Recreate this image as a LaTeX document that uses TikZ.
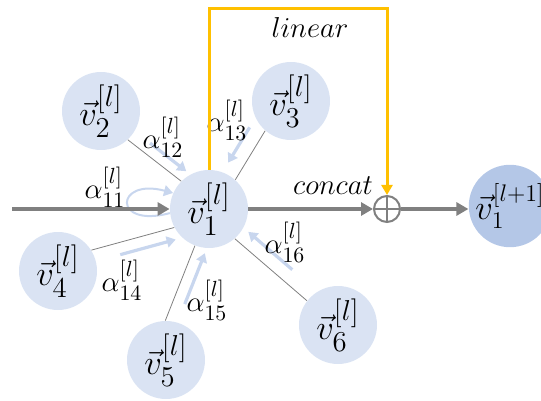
\documentclass[tikz,border=0pt]{standalone}
\definecolor{nodeblue}{RGB}{218,227,243}
\definecolor{outblue}{RGB}{180,199,231}
\definecolor{attnblue}{RGB}{200,214,238}
\definecolor{flowgrey}{RGB}{128,128,128}
\definecolor{skipyellow}{RGB}{255,192,0}
\usepackage{amsmath}
\usepackage{tikz}
\usetikzlibrary{arrows.meta,calc}

\begin{document}
\begin{tikzpicture}[
    x=0.5pt, y=-0.5pt,
    vertex/.style={circle, fill=nodeblue, minimum size=39pt, inner sep=0pt, font=\fontsize{19}{20}\selectfont},
    out vertex/.style={vertex, fill=outblue, minimum size=41pt, font=\fontsize{17}{18}\selectfont},
    weight/.style={font=\fontsize{15}{16}\selectfont},
    op label/.style={font=\fontsize{15}{16}\selectfont},
    edge line/.style={draw=flowgrey, line width=0.4pt},
    attn/.style={-{Triangle[length=4.5pt,width=5.5pt]}, draw=attnblue, line width=1.6pt},
    flow/.style={-{Triangle[length=6pt,width=6.5pt]}, draw=flowgrey, line width=2pt},
    skip/.style={-{Triangle[length=5pt,width=5.5pt]}, draw=skipyellow, line width=1.5pt},
    adder/.style={circle, draw=flowgrey, line width=1pt, minimum size=13pt, inner sep=0pt,
        path picture={\draw[flowgrey, line width=1pt]
            (path picture bounding box.north) -- (path picture bounding box.south)
            (path picture bounding box.west) -- (path picture bounding box.east);}}
]
    \useasboundingbox (0,0) rectangle (541,401);

    % Vertices of layer l
    \node[vertex] (v1) at (209,209) {$\vec{v}_1^{[l]}$};
    \node[vertex] (v2) at (101,111) {$\vec{v}_2^{[l]}$};
    \node[vertex] (v3) at (291,101) {$\vec{v}_3^{[l]}$};
    \node[vertex] (v4) at (58,271) {$\vec{v}_4^{[l]}$};
    \node[vertex] (v5) at (166,360) {$\vec{v}_5^{[l]}$};
    \node[vertex] (v6) at (338,325) {$\vec{v}_6^{[l]}$};

    % Next layer
    \node[adder] (sum) at (387,209) {};
    \node[out vertex] (v1next) at (510,206) {$\vec{v}_1^{[l+1]}$};

    % Neighbour edges
    \foreach \n/\src/\dst in {2/-47/135, 3/229/48, 4/32/208, 5/91/249, 6/142/311} {
        \draw[edge line] (v\n.\src) -- (v1.\dst);
    }

    % Attention weights
    \foreach \n/\src/\dst/\s/\e/\side/\d in {2/-47/135/0.29/0.97/90/5.5pt, 3/229/48/0.09/0.81/-90/7.5pt,
        4/32/208/0.31/0.98/-90/6pt, 5/91/249/0.28/0.96/-90/6pt, 6/142/311/0.33/0.94/-90/7pt} {
        \draw[attn] ($(v\n.\src)!\s!(v1.\dst)!\d!\side:(v1.\dst)$)
            -- ($(v\n.\src)!\e!(v1.\dst)!\d!\side:(v1.\dst)$);
    }
    \draw[attn, line width=1pt] (v1.186) .. controls +(165:60) and +(195:60) .. (v1.156);

    \node[weight] (a11) at (105,187) {$\alpha_{11}^{[l]}$};
    \node[weight] (a12) at (163,137) {$\alpha_{12}^{[l]}$};
    \node[weight] (a13) at (227,120) {$\alpha_{13}^{[l]}$};
    \node[weight] (a14) at (122,280) {$\alpha_{14}^{[l]}$};
    \node[weight] (a15) at (207,300) {$\alpha_{15}^{[l]}$};
    \node[weight] (a16) at (285,242) {$\alpha_{16}^{[l]}$};

    % Main flow
    \coordinate (in) at (12,209);
    \draw[flow] (in) -- (v1);
    \draw[flow] (v1) -- (sum);
    \draw[flow] (sum) -- (sum -| v1next.west);
    \node[op label] (concat) at (333,186) {$concat$};

    % Linear branch
    \draw[skip] (v1.north) -- ++(0,-161) -| (sum.north);
    \node[op label] (linear) at (310,28) {$linear$};
\end{tikzpicture}
\end{document}
